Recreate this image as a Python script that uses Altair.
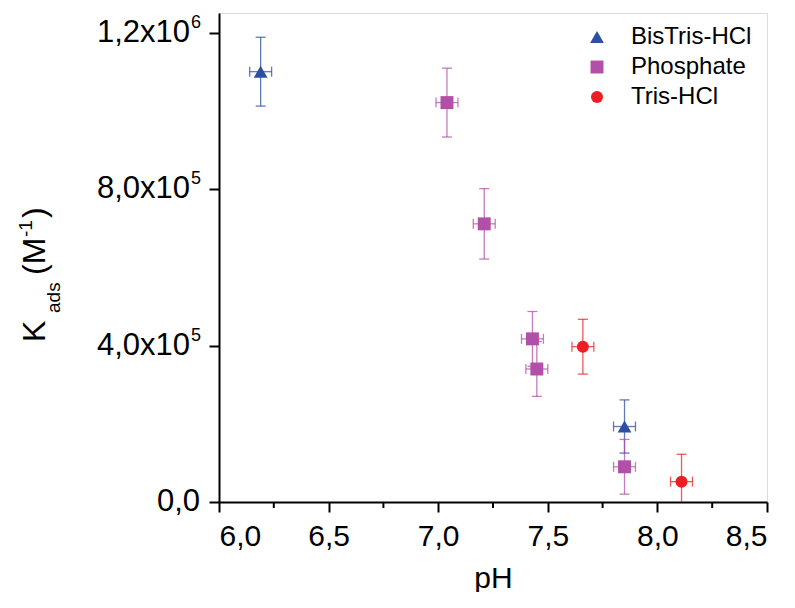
import altair as alt
import pandas as pd

# ---- data ----
bistris_ph = [6.19, 7.85]
bistris_k = [1.100e6, 0.193e6]
bistris_kerr = [0.088e6, 0.068e6]
bistris_pherr = [0.05, 0.05]

phosphate_ph = [7.04, 7.21, 7.43, 7.45, 7.85]
phosphate_k = [1.021e6, 0.711e6, 0.417e6, 0.340e6, 0.090e6]
phosphate_kerr = [0.088e6, 0.090e6, 0.070e6, 0.070e6, 0.070e6]
phosphate_pherr = [0.05, 0.05, 0.05, 0.05, 0.05]

tris_ph = [7.66, 8.11]
tris_k = [0.397e6, 0.052e6]
tris_kerr = [0.070e6, 0.070e6]
tris_pherr = [0.05, 0.05]

buffers = ["BisTris-HCl", "Phosphate", "Tris-HCl"]
colors = ["#2D4EA5", "#B24FA6", "#EE1D24"]
shapes = ["triangle-up", "square", "circle"]

x_ticks = [6.0, 6.5, 7.0, 7.5, 8.0, 8.5]
x_minor = [6.25, 6.75, 7.25, 7.75, 8.25]
y_ticks = [0.0, 4.0e5, 8.0e5, 1.2e6]
y_tick_base = ["0,0", "4,0x10", "8,0x10", "1,2x10"]
y_tick_exp = ["", "5", "5", "6"]

rows = []
for name, phs, ks, kerrs, pherrs in [
    ("BisTris-HCl", bistris_ph, bistris_k, bistris_kerr, bistris_pherr),
    ("Phosphate", phosphate_ph, phosphate_k, phosphate_kerr, phosphate_pherr),
    ("Tris-HCl", tris_ph, tris_k, tris_kerr, tris_pherr),
]:
    for p, k, ke, pe in zip(phs, ks, kerrs, pherrs):
        rows.append({"buffer": name, "ph": p, "k": k, "kerr": ke, "pherr": pe})
df = pd.DataFrame(rows)

W, H = 548, 489
FONT = "Liberation Sans"

x_scale = alt.Scale(domain=[6.0, 8.5], nice=False, zero=False)
y_scale = alt.Scale(domain=[0, 1.25e6], nice=False, zero=False)

x_axis = alt.Axis(
    values=x_ticks, title="pH", labelExpr="replace(format(datum.value, '.1f'), '.', ',')",
    labelFontSize=30, titleFontSize=30, titleFontWeight="normal", labelColor="black",
    titleColor="black", tickSize=10, tickWidth=2, tickColor="black", domainColor="black",
    domainWidth=2, labelPadding=9, titlePadding=12, grid=False, labelFont=FONT, titleFont=FONT,
)
y_axis = alt.Axis(
    values=y_ticks, title=None, labels=False, tickSize=10, tickWidth=2, tickColor="black",
    domainColor="black", domainWidth=2, grid=False,
)

legend = alt.Legend(
    title=None, orient="none", legendX=366, legendY=12, padding=0, symbolSize=200,
    labelFontSize=24, labelFont=FONT, labelColor="black", rowPadding=6, labelOffset=22,
    symbolStrokeWidth=0, symbolOpacity=1, symbolFillColor="black",
)

x_enc = alt.X("ph:Q", scale=x_scale, axis=x_axis)
y_enc = alt.Y("k:Q", scale=y_scale, axis=y_axis)
color_enc = alt.Color("buffer:N", scale=alt.Scale(domain=buffers, range=colors), legend=legend)
shape_enc = alt.Shape("buffer:N", scale=alt.Scale(domain=buffers, range=shapes), legend=legend)

base = alt.Chart(df).transform_calculate(
    klo="datum.k - datum.kerr", khi="datum.k + datum.kerr",
    phlo="datum.ph - datum.pherr", phhi="datum.ph + datum.pherr",
)

EW = 1.3
EOP = 0.75

yerr = base.mark_rule(strokeWidth=EW, opacity=EOP, clip=True).encode(
    x=x_enc, y=alt.Y("klo:Q", scale=y_scale), y2="khi:Q", color=color_enc)
ycap_lo = base.mark_tick(orient="horizontal", size=10, thickness=EW, opacity=EOP, clip=True).encode(
    x=x_enc, y=alt.Y("klo:Q", scale=y_scale), color=color_enc)
ycap_hi = base.mark_tick(orient="horizontal", size=10, thickness=EW, opacity=EOP, clip=True).encode(
    x=x_enc, y=alt.Y("khi:Q", scale=y_scale), color=color_enc)
xerr = base.mark_rule(strokeWidth=EW, opacity=EOP).encode(
    x=alt.X("phlo:Q", scale=x_scale), x2="phhi:Q", y=y_enc, color=color_enc)
xcap_lo = base.mark_tick(orient="vertical", size=10, thickness=EW, opacity=EOP).encode(
    x=alt.X("phlo:Q", scale=x_scale), y=y_enc, color=color_enc)
xcap_hi = base.mark_tick(orient="vertical", size=10, thickness=EW, opacity=EOP).encode(
    x=alt.X("phhi:Q", scale=x_scale), y=y_enc, color=color_enc)

points = alt.Chart(df).mark_point(filled=True, opacity=1, strokeWidth=0).encode(
    x=x_enc, y=y_enc, color=color_enc, shape=shape_enc,
    size=alt.Size("buffer:N", scale=alt.Scale(domain=buffers, range=[190, 145, 165]), legend=None),
)

minor = alt.Chart(pd.DataFrame({"ph": x_minor})).mark_rule(strokeWidth=2, color="black").encode(
    x=x_enc, y=alt.value(H), y2=alt.value(H + 6))

ylab_df = pd.DataFrame({"k": y_ticks, "base": y_tick_base, "exp": y_tick_exp})
ylab_exp = alt.Chart(ylab_df).transform_filter("datum.exp != ''")
ylab_zero = alt.Chart(ylab_df).transform_filter("datum.exp == ''")
ylab_base = ylab_exp.mark_text(align="right", baseline="middle", fontSize=31, font=FONT,
                                color="black").encode(x=alt.value(-29), y=y_enc, text="base:N")
ylab_sup = ylab_exp.mark_text(align="left", baseline="alphabetic", fontSize=18, font=FONT,
                               color="black", dy=-5).encode(x=alt.value(-28), y=y_enc, text="exp:N")
ylab_0 = ylab_zero.mark_text(align="right", baseline="middle", fontSize=31, font=FONT,
                             color="black").encode(x=alt.value(-19), y=y_enc, text="base:N")


def title_piece(txt, px, py, size):
    return alt.Chart(pd.DataFrame({"t": [txt]})).mark_text(
        text=txt, angle=270, align="left", baseline="alphabetic", fontSize=size, font=FONT,
        color="black").encode(x=alt.value(px), y=alt.value(py))


ytitle = [
    title_piece("K", -174, 329, 32),
    title_piece("ads", -159, 300, 19),
    title_piece("(M", -174, 262, 32),
    title_piece("-1", -187, 224, 19),
    title_piece(")", -174, 205, 32),
]

chart = alt.layer(
    minor, yerr, ycap_lo, ycap_hi, xerr, xcap_lo, xcap_hi, points,
    ylab_base, ylab_sup, ylab_0, *ytitle,
).properties(
    width=W, height=H,
    autosize=alt.AutoSizeParams(type="none"),
    padding={"left": 211, "top": 5, "right": 20, "bottom": 90},
).configure_view(stroke="black", strokeWidth=2).configure(font=FONT)

chart.save("out.html", embed_options={"renderer": "svg", "actions": False})
